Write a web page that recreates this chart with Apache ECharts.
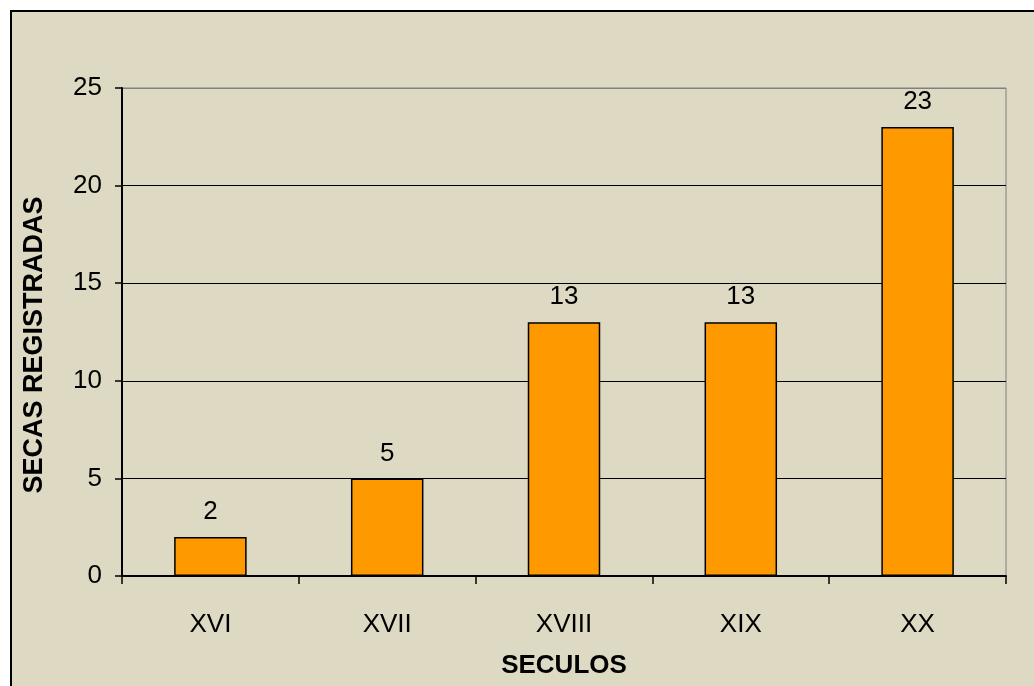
<!DOCTYPE html>
<html>
<head>
<meta charset="utf-8">
<script src="https://cdn.jsdelivr.net/npm/echarts@6/dist/echarts.min.js"></script>
<style>
  html, body { margin: 0; padding: 0; background: #ffffff; }
  #frame {
    position: absolute; left: 10px; top: 10px; width: 1040px; height: 690px;
    background: #ddd9c3; border-left: 2px solid #000; border-top: 2px solid #000;
  }
  #secas { position: absolute; left: 0; top: 0; width: 1034px; height: 686px; }
</style>
</head>
<body>
<div id="frame"></div>
<div id="secas"></div>
<script>
var seculos = ['XVI', 'XVII', 'XVIII', 'XIX', 'XX'];
var secas = [2, 5, 13, 13, 23];

var chartDom = document.getElementById('secas');
var secasChart = echarts.init(chartDom);
var option;

var fonte = 'Liberation Sans, Arial, sans-serif';

option = {
    backgroundColor: 'transparent',
    animation: false,
    grid: {
        left: 122,
        top: 88,
        right: 28,
        bottom: 110,
        outerBoundsMode: 'none',
        containLabel: false,
        show: true,
        borderColor: '#808080',
        borderWidth: 1,
        backgroundColor: 'transparent'
    },
    xAxis: {
        type: 'category',
        data: seculos,
        name: 'SECULOS',
        nameLocation: 'middle',
        nameGap: 77,
        nameTextStyle: { color: '#000', fontFamily: fonte, fontSize: 26, fontWeight: 'bold' },
        axisLine: { lineStyle: { color: '#000', width: 2 } },
        axisTick: { show: true, length: 8, lineStyle: { color: '#000', width: 1.5 } },
        axisLabel: { color: '#000', fontFamily: fonte, fontSize: 26, margin: 36 }
    },
    yAxis: {
        type: 'value',
        min: 0,
        max: 25,
        interval: 5,
        name: 'SECAS REGISTRADAS',
        nameLocation: 'middle',
        nameGap: 74,
        nameTextStyle: {
            color: '#000', fontFamily: fonte, fontSize: 27, fontWeight: 'bold',
            padding: [0, 26, 0, 0]
        },
        axisLine: { show: true, lineStyle: { color: '#000', width: 2 } },
        axisTick: { show: true, length: 7, lineStyle: { color: '#000', width: 1.5 } },
        axisLabel: { color: '#000', fontFamily: fonte, fontSize: 26, margin: 20 },
        splitLine: {
            show: true,
            lineStyle: { color: ['#000', '#000', '#000', '#000', '#000', '#808080'], width: 1.2 }
        }
    },
    series: [
        {
            name: 'Secas',
            type: 'bar',
            data: secas,
            barWidth: '41%',
            itemStyle: {
                color: '#ff9900',
                borderColor: '#000',
                borderWidth: 1.5
            },
            label: {
                show: true,
                position: 'top',
                distance: 12,
                color: '#000',
                fontFamily: fonte,
                fontSize: 26
            }
        }
    ]
};

option && secasChart.setOption(option);

window.addEventListener('resize', function () {
    secasChart.resize();
});
</script>
</body>
</html>
